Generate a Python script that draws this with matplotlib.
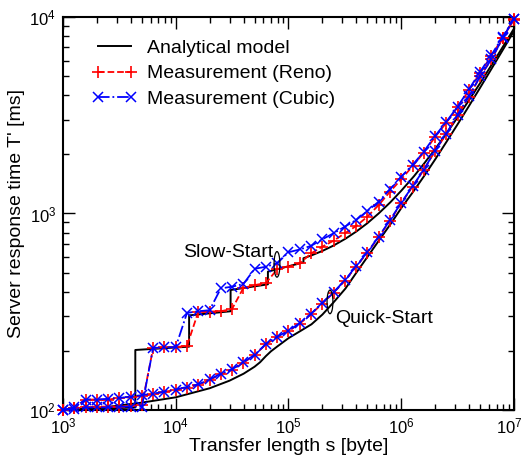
import matplotlib
matplotlib.use("Agg")
import matplotlib.pyplot as plt
from matplotlib.patches import Ellipse
from matplotlib.ticker import LogLocator, NullFormatter
from matplotlib.transforms import ScaledTranslation

# transfer sizes of the measurement points [byte]
sizes = [1000, 1259, 1585, 1995, 2512, 3162, 3981, 5012, 6310, 7943,
         10000, 12589, 15849, 19953, 25119, 31623, 39811, 50119, 63096, 79433,
         100000, 125893, 158489, 199526, 251189, 316228, 398107, 501187, 630957, 794328,
         1000000, 1258925, 1584893, 1995262, 2511886, 3162278, 3981072, 5011872, 6309573, 7943282,
         10000000]

# measured server response time [ms], slow-start
reno_ss = [100, 102, 104, 104, 104, 104, 105, 106, 207, 208,
           209, 212, 316, 317, 318, 327, 418, 432, 443, 520,
           536, 558, 626, 678, 727, 793, 863, 964, 1104, 1291,
           1493, 1740, 2040, 2450, 2900, 3470, 4230, 5200, 6350, 7850,
           9700]
cubic_ss = [100, 101, 103, 103, 103, 104, 104, 104, 207, 208,
            209, 312, 318, 322, 416, 424, 438, 523, 536, 558,
            635, 656, 684, 739, 793, 857, 927, 1030, 1149, 1327,
            1540, 1766, 2064, 2480, 2930, 3500, 4280, 5270, 6410, 7940,
            9800]

# measured server response time [ms], quick-start
reno_qs = [100, 102, 113, 113, 113, 115, 116, 118, 120, 124,
           126, 130, 134, 142, 152, 160, 174, 190, 216, 235,
           252, 275, 307, 348, 395, 454, 536, 632, 758, 919,
           1127, 1369, 1665, 2080, 2540, 3170, 3930, 4980, 6090, 7800,
           9750]
cubic_qs = [100, 103, 113, 113, 114, 115, 117, 119, 121, 124,
            127, 131, 135, 143, 153, 161, 175, 191, 217, 236,
            253, 277, 309, 350, 398, 457, 540, 636, 762, 925,
            1135, 1375, 1670, 2090, 2550, 3180, 3945, 4990, 6100, 7820,
            9800]

# analytical model, slow-start (step function, then smooth)
model_ss_x = [1000, 4380, 4380, 13140, 13140, 30660, 30660, 65700, 65700, 135780,
              135780, 160000, 200000, 250000, 320000, 400000, 500000, 630000, 800000, 1000000,
              1300000, 1600000, 2000000, 2500000, 3200000, 4000000, 5000000, 6300000, 8000000, 10000000]
model_ss_y = [100, 103, 202, 210, 303, 318, 408, 436, 506, 564,
              592, 612, 645, 686, 744, 810, 892, 1000, 1140, 1305,
              1550, 1800, 2130, 2540, 3120, 3780, 4600, 5680, 7080, 8730]

# analytical model, quick-start
model_qs_x = [1000, 2000, 5000, 10000, 20000, 30000, 40000, 50000, 56000, 63000,
              70000, 80000, 100000, 130000, 160000, 200000, 250000, 320000, 400000, 500000,
              630000, 800000, 1000000, 1300000, 1600000, 2000000, 2500000, 3200000, 4000000, 5000000,
              6300000, 8000000, 10000000]
model_qs_y = [100, 102, 109, 116, 129, 141, 153, 166, 175, 188,
              199, 211, 232, 254, 273, 306, 352, 415, 500, 600,
              725, 880, 1065, 1310, 1555, 1885, 2300, 2875, 3535, 4360,
              5435, 6835, 8485]

plt.rcParams["font.family"] = ["Liberation Sans", "DejaVu Sans"]
plt.rcParams["mathtext.fontset"] = "custom"
plt.rcParams["mathtext.rm"] = "Liberation Sans"
plt.rcParams["mathtext.it"] = "Liberation Sans:italic"
plt.rcParams["mathtext.default"] = "regular"


def main() -> None:
    fig = plt.figure(figsize=(5.24, 4.62), dpi=100)
    ax = fig.add_axes([0.1202, 0.1126, 0.8607, 0.8506])

    ax.plot(model_ss_x, model_ss_y, color="black", lw=1.4, zorder=2,
            label="Analytical model")
    ax.plot(model_qs_x, model_qs_y, color="black", lw=1.4, zorder=2)

    red = dict(color="red", ls="--", lw=1.3, marker="+", ms=8, mew=1.2,
               clip_on=False, zorder=3)
    blue = dict(color="blue", ls="-.", lw=1.3, marker="x", ms=6.5, mew=1.1,
                clip_on=False, zorder=4)
    ax.plot(sizes, reno_ss, label="Measurement (Reno)", **red)
    ax.plot(sizes, reno_qs, **red)
    ax.plot(sizes, cubic_ss, label="Measurement (Cubic)", **blue)
    ax.plot(sizes, cubic_qs, **blue)

    ax.set_xscale("log")
    ax.set_yscale("log")
    ax.set_xlim(1e3, 1e7)
    ax.set_ylim(1e2, 1e4)
    ax.set_xticks([1e3, 1e4, 1e5, 1e6, 1e7])
    ax.xaxis.set_minor_locator(LogLocator(base=10, subs=range(2, 10)))
    ax.yaxis.set_minor_locator(LogLocator(base=10, subs=range(2, 10)))
    ax.xaxis.set_minor_formatter(NullFormatter())
    ax.yaxis.set_minor_formatter(NullFormatter())
    ax.tick_params(which="both", direction="in", top=True, right=True,
                   width=1.0, labelsize=12)
    ax.tick_params(which="major", length=8.5, pad=5)
    ax.tick_params(which="minor", length=4)
    for spine in ax.spines.values():
        spine.set_linewidth(1.5)

    # keep the last x tick label inside the figure
    last = ax.get_xticklabels()[-1]
    last.set_transform(last.get_transform()
                       + ScaledTranslation(-5 / 100, 0, fig.dpi_scale_trans))

    ax.set_xlabel("Transfer length s [byte]", fontsize=14, labelpad=1)
    ax.set_ylabel("Server response time T' [ms]", fontsize=14, labelpad=3)

    ax.text(0.266, 0.389, "Slow-Start", transform=ax.transAxes,
            fontsize=14, ha="left", va="baseline")
    ax.text(0.603, 0.221, "Quick-Start", transform=ax.transAxes,
            fontsize=14, ha="left", va="baseline")
    ax.add_patch(Ellipse((0.4745, 0.3705), 0.013, 0.065, transform=ax.transAxes,
                         fill=False, lw=0.9, color="black", zorder=5))
    ax.add_patch(Ellipse((0.592, 0.275), 0.013, 0.06, transform=ax.transAxes,
                         fill=False, lw=0.9, color="black", zorder=5))

    ax.legend(loc="upper left", bbox_to_anchor=(0.064, 0.943), frameon=False,
              fontsize=14, borderpad=0, borderaxespad=0, handlelength=2.3,
              handletextpad=0.55, labelspacing=0.4, numpoints=2)

    fig.savefig("out.png", dpi=100)


if __name__ == "__main__":
    main()
